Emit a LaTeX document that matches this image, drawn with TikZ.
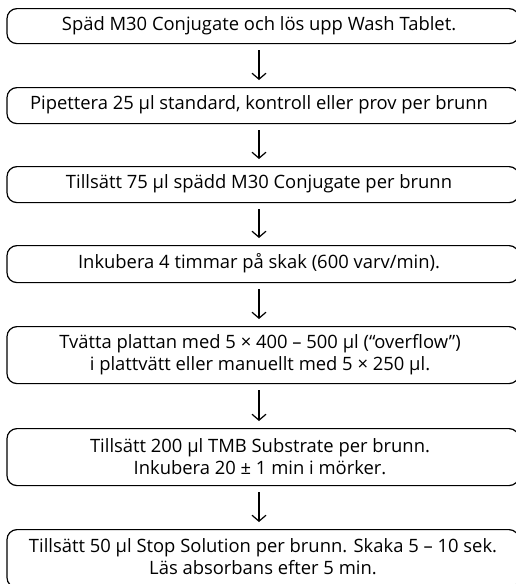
\documentclass[tikz,border=0pt]{standalone}
\usepackage{fontspec}
\setmainfont{Open Sans}
\usetikzlibrary{arrows.meta}
\tikzset{
  stepbox/.style={draw=black, line width=1.2pt, rounded corners=10pt,
    minimum width=512pt, inner sep=0pt, anchor=north},
  steptext/.style={align=center, font=\fontsize{18.4}{22}\selectfont, inner sep=0pt},
  flow/.style={line width=1.2pt, -{Straight Barb[length=6pt,width=14pt,line width=1.2pt]},
    shorten <=6pt, shorten >=7pt}
}
\begin{document}
\begin{tikzpicture}[x=1pt,y=-1pt]
\useasboundingbox (0,0) rectangle (516,584);
\clip (0,0) rectangle (516,584);
\fill[white] (0,0) rectangle (516,584);
% boxes
\node[stepbox, minimum height=35pt] (b1) at (263,8) {};
\node[stepbox, minimum height=36pt] (b2) at (263,87) {};
\node[stepbox, minimum height=36pt] (b3) at (263,166) {};
\node[stepbox, minimum height=37pt] (b4) at (263,245) {};
\node[stepbox, minimum height=57pt] (b5) at (263,326) {};
\node[stepbox, minimum height=57pt] (b6) at (263,428) {};
\node[stepbox, minimum height=58pt] (b7) at (263,529) {};
% texts
\node[steptext] (t1) at (259,26) {Späd M30 Conjugate och lös upp Wash Tablet.};
\node[steptext] (t2) at (259,105) {Pipettera 25 µl standard, kontroll eller prov per brunn};
\node[steptext] (t3) at (259,184) {Tillsätt 75 µl spädd M30 Conjugate per brunn};
\node[steptext] (t4) at (259,263.5) {Inkubera 4 timmar på skak (600 varv/min).};
\node[steptext] (t5) at (260,354.5) {Tvätta plattan med 5 × 400 – 500 µl (“overflow”)\\ i plattvätt eller manuellt med 5 × 250 µl.};
\node[steptext] (t6) at (260,456.5) {Tillsätt 200 µl TMB Substrate per brunn.\\Inkubera 20 ± 1 min i mörker.};
\node[steptext] (t7) at (263,557) {Tillsätt 50 µl Stop Solution per brunn. Skaka 5 – 10 sek.\\Läs absorbans efter 5 min.};
% arrows
\draw[flow] (b1.south -| t1) -- (b2.north -| t1);
\draw[flow] (b2.south -| t1) -- (b3.north -| t1);
\draw[flow] (b3.south -| t1) -- (b4.north -| t1);
\draw[flow] (b4.south -| t1) -- (b5.north -| t1);
\draw[flow] (b5.south -| t1) -- (b6.north -| t1);
\draw[flow] (b6.south -| t1) -- (b7.north -| t1);
\end{tikzpicture}
\end{document}
